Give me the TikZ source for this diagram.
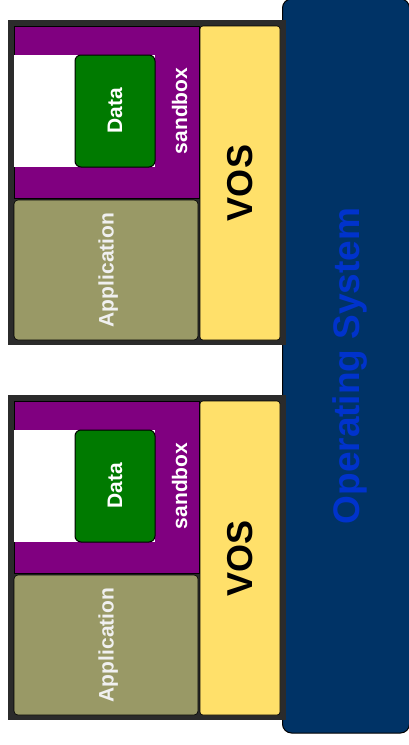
\documentclass[tikz,border=0pt]{standalone}
\usepackage{fontspec}
\setmainfont{Liberation Sans}
\definecolor{framegray}{RGB}{43,43,43}
\definecolor{sandpurple}{RGB}{128,0,128}
\definecolor{datagreen}{RGB}{0,122,0}
\definecolor{appolive}{RGB}{153,153,102}
\definecolor{vosyellow}{RGB}{255,224,106}
\definecolor{osnavy}{RGB}{0,51,102}
\definecolor{ostext}{RGB}{0,51,204}
% rotated label whose descenders do not count for centring
\newcommand{\uplabel}[1]{\rotatebox{90}{\raisebox{0pt}[\height][0pt]{#1}}}
\begin{document}
\begin{tikzpicture}[x=1pt,y=-1pt,
  every node/.style={inner sep=0pt, outer sep=0pt},
  osbox/.style={fill=osnavy, draw=black, line width=1pt, rounded corners=9pt,
    text=ostext, font=\fontsize{37}{44}\selectfont\bfseries},
  vmframe/.style={fill=framegray},
  sandboxarea/.style={fill=sandpurple, draw=black, line width=0.6pt},
  blank/.style={fill=white},
  databox/.style={fill=datagreen, draw=black, line width=1pt, rounded corners=6pt,
    text=white, font=\fontsize{21}{25}\selectfont\bfseries},
  sandlabel/.style={text=white, font=\fontsize{21}{25}\selectfont\bfseries},
  appbox/.style={fill=appolive, draw=black, line width=0.6pt, rounded corners=4pt,
    text=white!94!black, font=\fontsize{21}{25}\selectfont\bfseries},
  vosbox/.style={fill=vosyellow, draw=black, line width=0.6pt, rounded corners=3pt,
    text=black, font=\fontsize{36}{43}\selectfont\bfseries}]
\useasboundingbox (0,0) rectangle (409,745);

% host operating system
\node[osbox, minimum width=127pt, minimum height=734pt] (os) at (346,366)
  {\uplabel{Operating System}};

% two virtual machines, one above the other
\foreach \dy/\i in {0/1,375/2}{
  \node[vmframe, minimum width=278pt, minimum height=325pt] (frame\i) at (147,182.5+\dy) {};
  \node[sandboxarea, minimum width=185pt, minimum height=172pt] (sand\i) at (106.5,112+\dy) {};
  \node[blank, minimum width=141pt, minimum height=112pt] (blank\i) at (84.5,111+\dy) {};
  \node[databox, minimum width=80pt, minimum height=112pt] (data\i) at (115,111+\dy)
    {\uplabel{Data}};
  \node[sandlabel] (sandlbl\i) at (179.5,111+\dy) {\uplabel{sandbox}};
  \node[appbox, minimum width=184pt, minimum height=140pt] (app\i) at (106,270+\dy)
    {\uplabel{Application}};
  \node[vosbox, minimum width=80pt, minimum height=314pt] (vos\i) at (240,183+\dy)
    {\uplabel{VOS}};
}
\end{tikzpicture}
\end{document}
